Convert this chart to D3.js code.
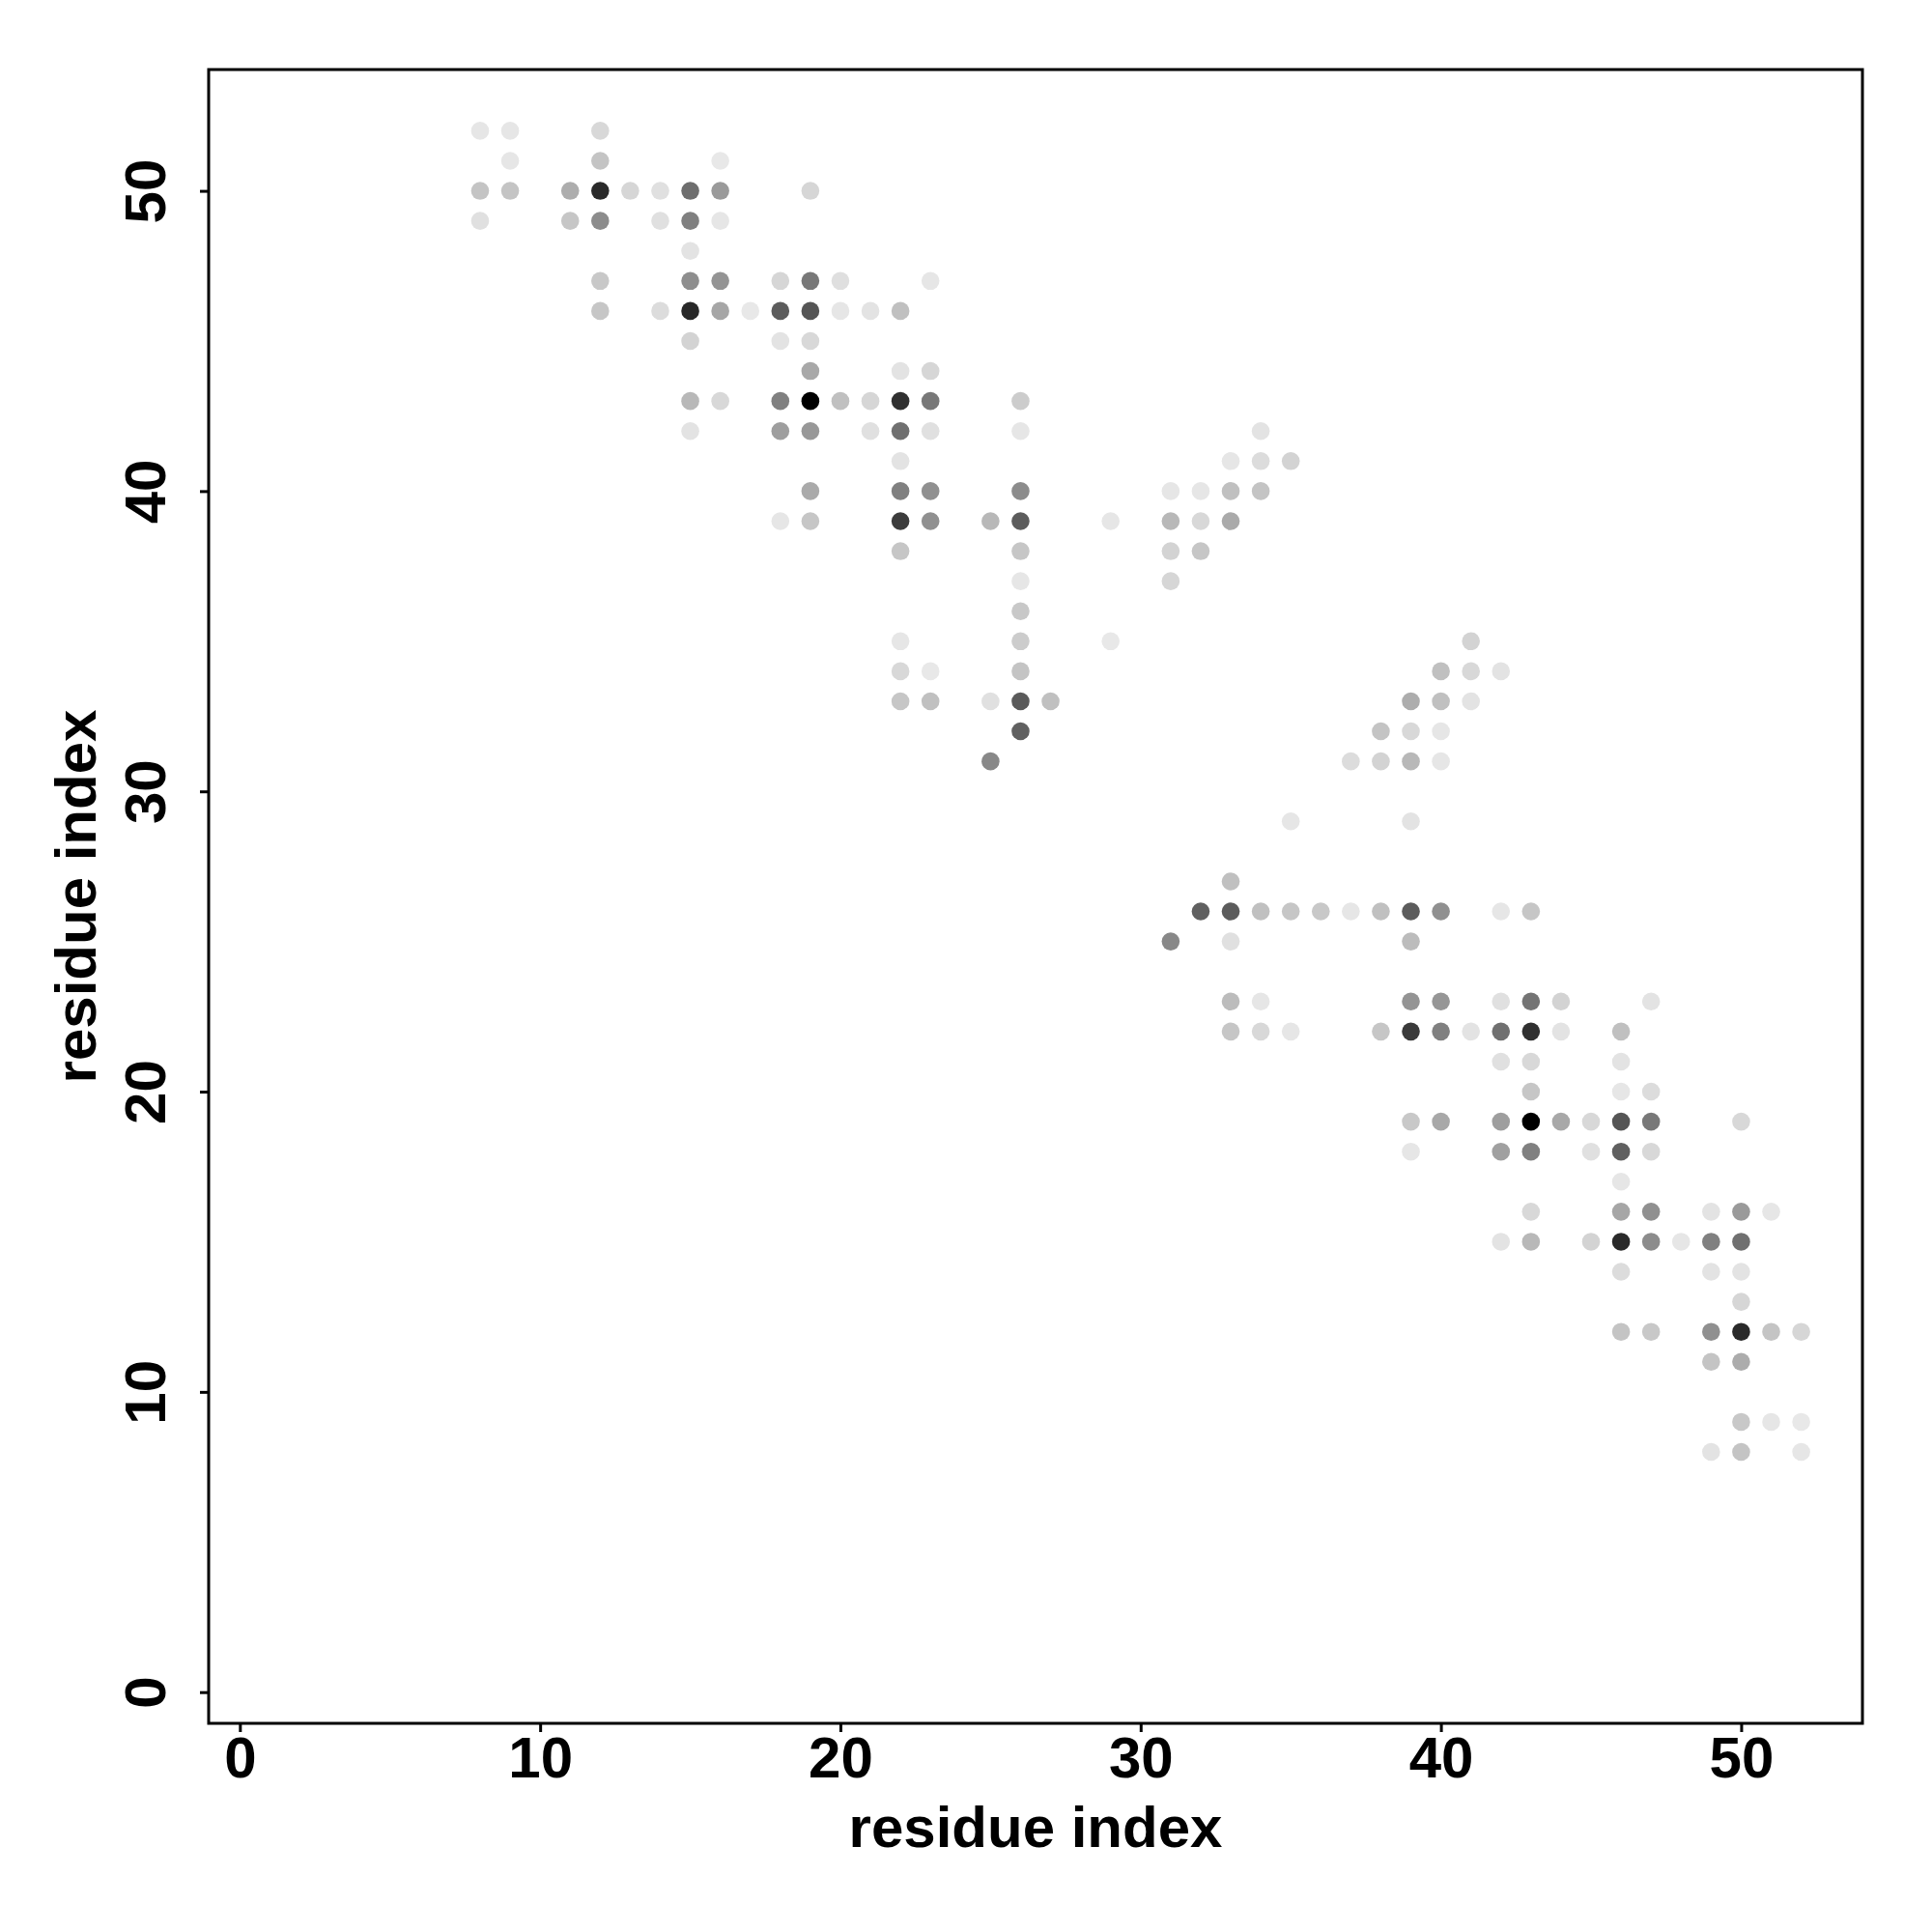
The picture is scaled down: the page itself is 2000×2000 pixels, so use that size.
<!DOCTYPE html>
<html>
<head>
<meta charset="utf-8">
<script src="https://cdn.jsdelivr.net/npm/d3@7"></script>
<style>
  html, body { margin: 0; padding: 0; background: #fff; }
  svg { display: block; }
  text { font-family: "Liberation Sans", Arial, Helvetica, sans-serif; font-weight: bold; fill: #000; }
</style>
</head>
<body>
<svg id="chart" width="2000" height="2000"></svg>
<script>
// residue pairs (x = residue i, y = residue j) and grey level (0 = black, 255 = white)
const resI = [
  8,9,12,
  9,12,16,
  8,9,11,12,13,14,15,16,19,
  8,11,12,14,15,16,
  15,
  12,15,16,18,19,20,23,
  12,14,15,16,17,18,19,20,21,22,
  15,18,19,
  19,22,23,
  15,16,18,19,20,21,22,23,26,
  15,18,19,21,22,23,26,34,
  22,33,34,35,
  19,22,23,26,31,32,33,34,
  18,19,22,23,25,26,29,31,32,33,
  22,26,31,32,
  26,31,
  26,
  22,26,29,41,
  22,23,26,40,41,42,
  22,23,25,26,27,39,40,41,
  26,38,39,40,
  25,37,38,39,40,
  35,39,
  33,
  32,33,34,35,36,37,38,39,40,42,43,
  31,33,39,
  33,34,39,40,42,43,44,47,
  33,34,35,38,39,40,41,42,43,44,46,
  42,43,46,
  43,46,47,
  39,40,42,43,44,45,46,47,50,
  39,42,43,45,46,47,
  46,
  43,46,47,49,50,51,
  42,43,45,46,47,48,49,50,
  46,49,50,
  50,
  46,47,49,50,51,52,
  49,50,
  50,51,52,
  49,50,52
];
const resJ = [
  52,52,52,
  51,51,51,
  50,50,50,50,50,50,50,50,50,
  49,49,49,49,49,49,
  48,
  47,47,47,47,47,47,47,
  46,46,46,46,46,46,46,46,46,46,
  45,45,45,
  44,44,44,
  43,43,43,43,43,43,43,43,43,
  42,42,42,42,42,42,42,42,
  41,41,41,41,
  40,40,40,40,40,40,40,40,
  39,39,39,39,39,39,39,39,39,39,
  38,38,38,38,
  37,37,
  36,
  35,35,35,35,
  34,34,34,34,34,34,
  33,33,33,33,33,33,33,33,
  32,32,32,32,
  31,31,31,31,31,
  29,29,
  27,
  26,26,26,26,26,26,26,26,26,26,26,
  25,25,25,
  23,23,23,23,23,23,23,23,
  22,22,22,22,22,22,22,22,22,22,22,
  21,21,21,
  20,20,20,
  19,19,19,19,19,19,19,19,19,
  18,18,18,18,18,18,
  17,
  16,16,16,16,16,16,
  15,15,15,15,15,15,15,15,
  14,14,14,
  13,
  12,12,12,12,12,12,
  11,11,
  9,9,9,
  8,8,8
];
const greyLevel = [
  0xe6,0xe6,0xd8,
  0xe6,0xc4,0xe8,
  0xc4,0xc4,0xad,0x2a,0xd6,0xe0,0x6e,0x9a,0xd6,
  0xe0,0xc6,0x8c,0xe0,0x80,0xe6,
  0xe3,
  0xc8,0x8e,0x94,0xd6,0x78,0xdf,0xe6,
  0xc6,0xdc,0x28,0xa6,0xe8,0x5c,0x55,0xe6,0xe3,0xc0,
  0xd3,0xe3,0xd8,
  0xa8,0xe3,0xd6,
  0xb8,0xd8,0x80,0x00,0xc0,0xd6,0x30,0x78,0xcc,
  0xe3,0x9e,0x98,0xe0,0x70,0xe0,0xe6,0xe3,
  0xe3,0xe6,0xdc,0xd3,
  0xaa,0x80,0x90,0x8c,0xe6,0xe6,0xc0,0xc4,
  0xe6,0xc6,0x3c,0x90,0xb8,0x5c,0xe6,0xb8,0xd8,0xaa,
  0xc6,0xc6,0xd3,0xc6,
  0xe6,0xd6,
  0xc8,
  0xe6,0xcc,0xe8,0xd3,
  0xd8,0xe8,0xc4,0xc0,0xd8,0xe3,
  0xc6,0xc0,0xe0,0x5a,0xc0,0xad,0xc0,0xe3,
  0x60,0xc4,0xd8,0xe6,
  0x88,0xdc,0xd3,0xb8,0xe6,
  0xe6,0xe3,
  0xc0,
  0x60,0x5c,0xc0,0xc6,0xc8,0xe6,0xc0,0x5c,0x90,0xe6,0xc6,
  0x88,0xe0,0xbc,
  0xbc,0xe6,0x94,0x96,0xe0,0x74,0xd3,0xe3,
  0xc6,0xd8,0xe6,0xc6,0x3a,0x80,0xe3,0x70,0x30,0xe3,0xc0,
  0xe0,0xd8,0xe3,
  0xc6,0xe6,0xdc,
  0xc8,0xa8,0x9e,0x00,0xa8,0xd8,0x55,0x78,0xd8,
  0xe6,0xa0,0x80,0xe0,0x60,0xd8,
  0xe6,
  0xd8,0xa6,0x90,0xe3,0x9a,0xe6,
  0xe3,0xb8,0xd3,0x2a,0x8c,0xe6,0x80,0x70,
  0xdc,0xe3,0xe3,
  0xd6,
  0xc4,0xc8,0x90,0x2a,0xc4,0xd6,
  0xc4,0xac,
  0xc8,0xe6,0xe8,
  0xe3,0xc4,0xe6
];
const xTicks = [0, 10, 20, 30, 40, 50];
const yTicks = [0, 10, 20, 30, 40, 50];
const xTitle = "residue index";
const yTitle = "residue index";

(function () {
  const points = resI.map((d, k) => ({ x: d, y: resJ[k], g: greyLevel[k] }));

  const svg = d3.select("#chart");
  const mLeft = 216, mRight = 1928, mTop = 72, mBottom = 1784;
  const x = d3.scaleLinear().domain([-1.04, 54.04]).range([mLeft, mRight]);
  const y = d3.scaleLinear().domain([-1.04, 54.04]).range([mBottom, mTop]);
  const grey = d3.scaleLinear().domain([0, 255]).range(["#000000", "#ffffff"]);

  svg.append("rect").attr("width", 2000).attr("height", 2000).attr("fill", "#fff");

  // points (lightest first so dark ones stay on top)
  svg.append("g").selectAll("circle")
    .data(points.slice().sort((a, b) => b.g - a.g))
    .join("circle")
    .attr("cx", d => x(d.x))
    .attr("cy", d => y(d.y))
    .attr("r", 9.3)
    .attr("fill", d => grey(d.g));

  // axes
  const xAxis = svg.append("g")
    .attr("transform", `translate(0,${mBottom})`)
    .call(d3.axisBottom(x).tickValues(xTicks).tickSize(9).tickPadding(12).tickFormat(d3.format("d")));
  const yAxis = svg.append("g")
    .attr("transform", `translate(${mLeft},0)`)
    .call(d3.axisLeft(y).tickValues(yTicks).tickSize(9).tickPadding(12).tickFormat(d3.format("d")));
  [xAxis, yAxis].forEach(a => {
    a.select(".domain").remove();
    a.selectAll(".tick line").attr("stroke", "#000").attr("stroke-width", 3);
    a.selectAll(".tick text").attr("font-size", 60).attr("font-family", null).attr("fill", "#000");
  });
  xAxis.selectAll(".tick text").attr("dy", null).attr("y", 56);
  yAxis.selectAll(".tick text")
    .attr("x", null).attr("dy", null)
    .attr("text-anchor", "middle")
    .attr("transform", "translate(-45,0) rotate(-90)");

  // frame
  svg.append("rect")
    .attr("x", mLeft).attr("y", mTop)
    .attr("width", mRight - mLeft).attr("height", mBottom - mTop)
    .attr("fill", "none").attr("stroke", "#000").attr("stroke-width", 3);

  // titles
  svg.append("text")
    .attr("x", (mLeft + mRight) / 2).attr("y", 1912)
    .attr("text-anchor", "middle").attr("font-size", 60)
    .text(xTitle);
  svg.append("text")
    .attr("transform", `translate(99,${(mTop + mBottom) / 2}) rotate(-90)`)
    .attr("text-anchor", "middle").attr("font-size", 60)
    .text(yTitle);
})();
</script>
</body>
</html>
